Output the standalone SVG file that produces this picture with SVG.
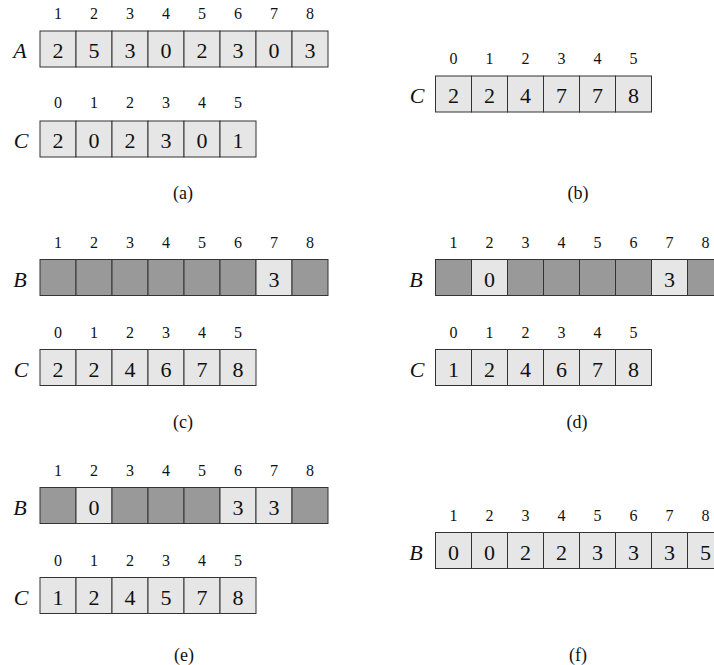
<svg xmlns="http://www.w3.org/2000/svg" width="714" height="665" viewBox="0 0 714 665">
<style>
.l{fill:#e6e6e6;stroke:#333;stroke-width:1}
.d{fill:#999;stroke:#333;stroke-width:1}
text{font-family:'Liberation Serif','Times New Roman','DejaVu Serif',serif;fill:#111;text-anchor:middle}
.v{font-size:22px}
.i{font-size:16px}
.n{font-size:22px;font-style:italic}
.c{font-size:18px}
</style>
<rect width="714" height="665" fill="#fff"/>
<g id="panel-a">
<g id="a-A">
<text class="n" x="20" y="58">A</text>
<g class="i"><text x="58" y="19">1</text><text x="94" y="19">2</text><text x="130" y="19">3</text><text x="166" y="19">4</text><text x="202" y="19">5</text><text x="238" y="19">6</text><text x="274" y="19">7</text><text x="310" y="19">8</text></g>
<rect class="l" x="40" y="31" width="36" height="36"/><rect class="l" x="76" y="31" width="36" height="36"/><rect class="l" x="112" y="31" width="36" height="36"/><rect class="l" x="148" y="31" width="36" height="36"/><rect class="l" x="184" y="31" width="36" height="36"/><rect class="l" x="220" y="31" width="36" height="36"/><rect class="l" x="256" y="31" width="36" height="36"/><rect class="l" x="292" y="31" width="36" height="36"/>
<g class="v"><text x="58" y="58">2</text><text x="94" y="58">5</text><text x="130" y="58">3</text><text x="166" y="58">0</text><text x="202" y="58">2</text><text x="238" y="58">3</text><text x="274" y="58">0</text><text x="310" y="58">3</text></g>
</g>
<g id="a-C">
<text class="n" x="21" y="148">C</text>
<g class="i"><text x="58" y="108">0</text><text x="94" y="108">1</text><text x="130" y="108">2</text><text x="166" y="108">3</text><text x="202" y="108">4</text><text x="238" y="108">5</text></g>
<rect class="l" x="40" y="121" width="36" height="36"/><rect class="l" x="76" y="121" width="36" height="36"/><rect class="l" x="112" y="121" width="36" height="36"/><rect class="l" x="148" y="121" width="36" height="36"/><rect class="l" x="184" y="121" width="36" height="36"/><rect class="l" x="220" y="121" width="36" height="36"/>
<g class="v"><text x="58" y="148">2</text><text x="94" y="148">0</text><text x="130" y="148">2</text><text x="166" y="148">3</text><text x="202" y="148">0</text><text x="238" y="148">1</text></g>
</g>
<text class="c" x="183" y="199">(a)</text>
</g>
<g id="panel-b">
<text class="n" x="417" y="103">C</text>
<g class="i"><text x="453.5" y="64">0</text><text x="489.5" y="64">1</text><text x="525.5" y="64">2</text><text x="561.5" y="64">3</text><text x="597.5" y="64">4</text><text x="633.5" y="64">5</text></g>
<rect class="l" x="435.5" y="76" width="36" height="36"/><rect class="l" x="471.5" y="76" width="36" height="36"/><rect class="l" x="507.5" y="76" width="36" height="36"/><rect class="l" x="543.5" y="76" width="36" height="36"/><rect class="l" x="579.5" y="76" width="36" height="36"/><rect class="l" x="615.5" y="76" width="36" height="36"/>
<g class="v"><text x="453.5" y="103">2</text><text x="489.5" y="103">2</text><text x="525.5" y="103">4</text><text x="561.5" y="103">7</text><text x="597.5" y="103">7</text><text x="633.5" y="103">8</text></g>
<text class="c" x="578" y="199">(b)</text>
</g>
<g id="panel-c">
<g id="c-B">
<text class="n" x="20" y="286.5">B</text>
<g class="i"><text x="58" y="247.5">1</text><text x="94" y="247.5">2</text><text x="130" y="247.5">3</text><text x="166" y="247.5">4</text><text x="202" y="247.5">5</text><text x="238" y="247.5">6</text><text x="274" y="247.5">7</text><text x="310" y="247.5">8</text></g>
<rect class="d" x="40" y="259.5" width="36" height="36"/><rect class="d" x="76" y="259.5" width="36" height="36"/><rect class="d" x="112" y="259.5" width="36" height="36"/><rect class="d" x="148" y="259.5" width="36" height="36"/><rect class="d" x="184" y="259.5" width="36" height="36"/><rect class="d" x="220" y="259.5" width="36" height="36"/><rect class="l" x="256" y="259.5" width="36" height="36"/><rect class="d" x="292" y="259.5" width="36" height="36"/>
<g class="v"><text x="274" y="286.5">3</text></g>
</g>
<g id="c-C">
<text class="n" x="21" y="376.5">C</text>
<g class="i"><text x="58" y="337.5">0</text><text x="94" y="337.5">1</text><text x="130" y="337.5">2</text><text x="166" y="337.5">3</text><text x="202" y="337.5">4</text><text x="238" y="337.5">5</text></g>
<rect class="l" x="40" y="349.5" width="36" height="36"/><rect class="l" x="76" y="349.5" width="36" height="36"/><rect class="l" x="112" y="349.5" width="36" height="36"/><rect class="l" x="148" y="349.5" width="36" height="36"/><rect class="l" x="184" y="349.5" width="36" height="36"/><rect class="l" x="220" y="349.5" width="36" height="36"/>
<g class="v"><text x="58" y="376.5">2</text><text x="94" y="376.5">2</text><text x="130" y="376.5">4</text><text x="166" y="376.5">6</text><text x="202" y="376.5">7</text><text x="238" y="376.5">8</text></g>
</g>
<text class="c" x="183" y="428">(c)</text>
</g>
<g id="panel-d">
<g id="d-B">
<text class="n" x="416" y="286.5">B</text>
<g class="i"><text x="453.5" y="247.5">1</text><text x="489.5" y="247.5">2</text><text x="525.5" y="247.5">3</text><text x="561.5" y="247.5">4</text><text x="597.5" y="247.5">5</text><text x="633.5" y="247.5">6</text><text x="669.5" y="247.5">7</text><text x="705.5" y="247.5">8</text></g>
<rect class="d" x="435.5" y="259.5" width="36" height="36"/><rect class="l" x="471.5" y="259.5" width="36" height="36"/><rect class="d" x="507.5" y="259.5" width="36" height="36"/><rect class="d" x="543.5" y="259.5" width="36" height="36"/><rect class="d" x="579.5" y="259.5" width="36" height="36"/><rect class="d" x="615.5" y="259.5" width="36" height="36"/><rect class="l" x="651.5" y="259.5" width="36" height="36"/><rect class="d" x="687.5" y="259.5" width="36" height="36"/>
<g class="v"><text x="489.5" y="286.5">0</text><text x="669.5" y="286.5">3</text></g>
</g>
<g id="d-C">
<text class="n" x="417" y="376.5">C</text>
<g class="i"><text x="453.5" y="337.5">0</text><text x="489.5" y="337.5">1</text><text x="525.5" y="337.5">2</text><text x="561.5" y="337.5">3</text><text x="597.5" y="337.5">4</text><text x="633.5" y="337.5">5</text></g>
<rect class="l" x="435.5" y="349.5" width="36" height="36"/><rect class="l" x="471.5" y="349.5" width="36" height="36"/><rect class="l" x="507.5" y="349.5" width="36" height="36"/><rect class="l" x="543.5" y="349.5" width="36" height="36"/><rect class="l" x="579.5" y="349.5" width="36" height="36"/><rect class="l" x="615.5" y="349.5" width="36" height="36"/>
<g class="v"><text x="453.5" y="376.5">1</text><text x="489.5" y="376.5">2</text><text x="525.5" y="376.5">4</text><text x="561.5" y="376.5">6</text><text x="597.5" y="376.5">7</text><text x="633.5" y="376.5">8</text></g>
</g>
<text class="c" x="577" y="428">(d)</text>
</g>
<g id="panel-e">
<g id="e-B">
<text class="n" x="20" y="514.5">B</text>
<g class="i"><text x="58" y="475.5">1</text><text x="94" y="475.5">2</text><text x="130" y="475.5">3</text><text x="166" y="475.5">4</text><text x="202" y="475.5">5</text><text x="238" y="475.5">6</text><text x="274" y="475.5">7</text><text x="310" y="475.5">8</text></g>
<rect class="d" x="40" y="487.5" width="36" height="36"/><rect class="l" x="76" y="487.5" width="36" height="36"/><rect class="d" x="112" y="487.5" width="36" height="36"/><rect class="d" x="148" y="487.5" width="36" height="36"/><rect class="d" x="184" y="487.5" width="36" height="36"/><rect class="l" x="220" y="487.5" width="36" height="36"/><rect class="l" x="256" y="487.5" width="36" height="36"/><rect class="d" x="292" y="487.5" width="36" height="36"/>
<g class="v"><text x="94" y="514.5">0</text><text x="238" y="514.5">3</text><text x="274" y="514.5">3</text></g>
</g>
<g id="e-C">
<text class="n" x="21" y="604.5">C</text>
<g class="i"><text x="58" y="565.5">0</text><text x="94" y="565.5">1</text><text x="130" y="565.5">2</text><text x="166" y="565.5">3</text><text x="202" y="565.5">4</text><text x="238" y="565.5">5</text></g>
<rect class="l" x="40" y="577.5" width="36" height="36"/><rect class="l" x="76" y="577.5" width="36" height="36"/><rect class="l" x="112" y="577.5" width="36" height="36"/><rect class="l" x="148" y="577.5" width="36" height="36"/><rect class="l" x="184" y="577.5" width="36" height="36"/><rect class="l" x="220" y="577.5" width="36" height="36"/>
<g class="v"><text x="58" y="604.5">1</text><text x="94" y="604.5">2</text><text x="130" y="604.5">4</text><text x="166" y="604.5">5</text><text x="202" y="604.5">7</text><text x="238" y="604.5">8</text></g>
</g>
<text class="c" x="184" y="661">(e)</text>
</g>
<g id="panel-f">
<text class="n" x="416" y="559.5">B</text>
<g class="i"><text x="453.5" y="520.5">1</text><text x="489.5" y="520.5">2</text><text x="525.5" y="520.5">3</text><text x="561.5" y="520.5">4</text><text x="597.5" y="520.5">5</text><text x="633.5" y="520.5">6</text><text x="669.5" y="520.5">7</text><text x="705.5" y="520.5">8</text></g>
<rect class="l" x="435.5" y="532.5" width="36" height="36"/><rect class="l" x="471.5" y="532.5" width="36" height="36"/><rect class="l" x="507.5" y="532.5" width="36" height="36"/><rect class="l" x="543.5" y="532.5" width="36" height="36"/><rect class="l" x="579.5" y="532.5" width="36" height="36"/><rect class="l" x="615.5" y="532.5" width="36" height="36"/><rect class="l" x="651.5" y="532.5" width="36" height="36"/><rect class="l" x="687.5" y="532.5" width="36" height="36"/>
<g class="v"><text x="453.5" y="559.5">0</text><text x="489.5" y="559.5">0</text><text x="525.5" y="559.5">2</text><text x="561.5" y="559.5">2</text><text x="597.5" y="559.5">3</text><text x="633.5" y="559.5">3</text><text x="669.5" y="559.5">3</text><text x="705.5" y="559.5">5</text></g>
<text class="c" x="578" y="661">(f)</text>
</g>
</svg>
